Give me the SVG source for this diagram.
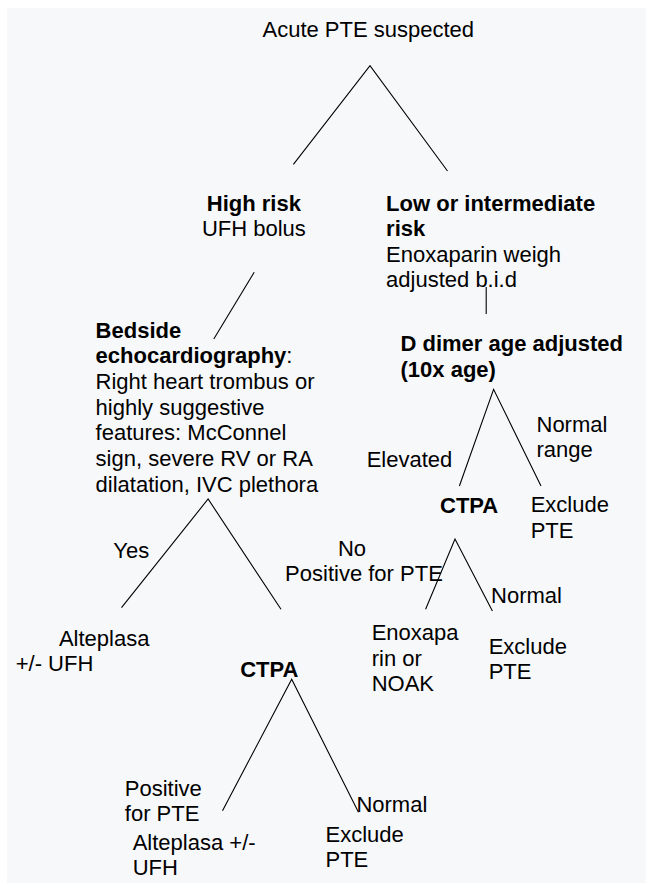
<svg xmlns="http://www.w3.org/2000/svg" width="646" height="883" viewBox="0 0 646 883">
<style>
text{font-family:"Liberation Sans",Arial,sans-serif;font-size:22px;fill:#000}
.b{font-weight:bold}
.ln{stroke:#000;stroke-width:1.1;fill:none}
</style>
<rect x="0" y="0" width="646" height="883" fill="#ffffff"/>
<rect x="7" y="8" width="639" height="875" fill="#f7f8fa"/>
<g id="connectors">
<path class="ln" d="M293.4,164.3 L370,65.7 L447.5,171"/>
<path class="ln" d="M254.2,272.3 L213.8,339"/>
<path class="ln" d="M486.2,287 L486.2,314"/>
<path class="ln" d="M459.4,486 L493.6,389.3 L541,486"/>
<path class="ln" d="M121.5,607.7 L208.1,499 L281,609.3"/>
<path class="ln" d="M425.6,609.3 L455,539 L492.4,611"/>
<path class="ln" d="M222.5,810.7 L291.7,679.3 L358.5,812.3"/>
</g>
<g id="edge-labels">
<text x="113.3" y="558.3">Yes</text>
<text x="337.9" y="556">No</text>
<text x="366.7" y="467.3">Elevated</text>
<text x="536.5" y="431.7">Normal</text>
<text x="536.5" y="456.7">range</text>
<text x="285.1" y="580.5">Positive for PTE</text>
<text x="491.1" y="603.3">Normal</text>
<text x="124.8" y="795.7">Positive</text>
<text x="124.8" y="820.7">for PTE</text>
<text x="356.4" y="812.3">Normal</text>
</g>
<g id="n-root"><text x="262.5" y="36.7">Acute PTE suspected</text></g>
<g id="n-high">
<text class="b" x="206.8" y="210.7">High risk</text>
<text x="201.9" y="235.7">UFH bolus</text>
</g>
<g id="n-low">
<text class="b" x="386.1" y="210.7">Low or intermediate</text>
<text class="b" x="386.1" y="235.7">risk</text>
<text x="386.1" y="261.7">Enoxaparin weigh</text>
<text x="386.1" y="286.7">adjusted b.i.d</text>
</g>
<g id="n-echo">
<text x="95.6" y="338.3" class="b">Bedside</text>
<text x="95.6" y="363.3"><tspan class="b">echocardiography</tspan>:</text>
<text x="95.6" y="389">Right heart trombus or</text>
<text x="95.6" y="414.5">highly suggestive</text>
<text x="95.6" y="440">features: McConnel</text>
<text x="95.6" y="465.7">sign, severe RV or RA</text>
<text x="95.6" y="491.5">dilatation, IVC plethora</text>
</g>
<g id="n-ddimer">
<text class="b" x="400.5" y="351">D dimer age adjusted</text>
<text class="b" x="400.5" y="376.7">(10x age)</text>
</g>
<g id="n-ctpa1"><text class="b" x="440" y="512.7">CTPA</text></g>
<g id="n-exclude1">
<text x="530.7" y="511.7">Exclude</text>
<text x="530.7" y="537.7">PTE</text>
</g>
<g id="n-alteplasa1">
<text x="58.9" y="645.7">Alteplasa</text>
<text x="15.7" y="671">+/- UFH</text>
</g>
<g id="n-ctpa2"><text class="b" x="240.2" y="676.7">CTPA</text></g>
<g id="n-enox">
<text x="371.7" y="640">Enoxapa</text>
<text x="371.7" y="665.7">rin or</text>
<text x="371.7" y="691">NOAK</text>
</g>
<g id="n-exclude2">
<text x="488.7" y="654">Exclude</text>
<text x="488.7" y="679.3">PTE</text>
</g>
<g id="n-alteplasa2">
<text x="132.7" y="850">Alteplasa +/-</text>
<text x="132.7" y="875">UFH</text>
</g>
<g id="n-exclude3">
<text x="325.5" y="842.3">Exclude</text>
<text x="325.5" y="866.7">PTE</text>
</g>
</svg>
